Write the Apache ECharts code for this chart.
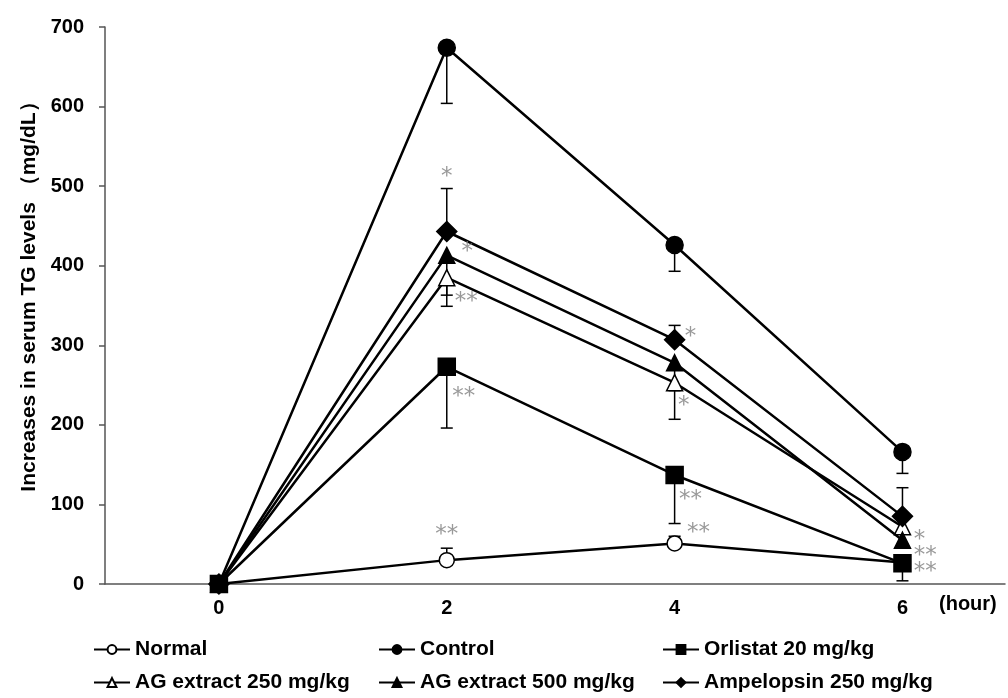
<!DOCTYPE html>
<html>
<head>
<meta charset="utf-8">
<script src="https://cdn.jsdelivr.net/npm/echarts@6/dist/echarts.min.js"></script>
<style>html,body{margin:0;padding:0;background:#fff}#c{width:1008px;height:698px}</style>
</head>
<body>
<div id="c"></div>
<script>
// ---- data ----
const hours = [0, 2, 4, 6];
const seriesNames = ['Normal', 'Control', 'Orlistat 20 mg/kg', 'AG extract 250 mg/kg', 'AG extract 500 mg/kg', 'Ampelopsin 250 mg/kg'];
const normal     = [0, 30, 51, 27];
const control    = [0, 674, 426, 166];
const orlistat   = [0, 273, 137, 26];
const ag250      = [0, 385, 253, 72];
const ag500      = [0, 413, 278, 55];
const ampelopsin = [0, 443, 307, 85];
// error bar ends [hour, mean, end]
const normalErr     = [[2, 30, 45], [4, 51, 60]];
const controlErr    = [[2, 674, 604], [4, 426, 393], [6, 166, 139]];
const orlistatErr   = [[2, 273, 196], [4, 137, 76], [6, 26, 4]];
const ag250Err      = [[2, 385, 349], [4, 253, 207]];
const ag500Err      = [[2, 413, 363], [4, 278, 243]];
const ampelopsinErr = [[2, 443, 497], [4, 307, 325], [6, 85, 121]];
// significance marks [hour, value, text]
const marks = [
  [2.0, 511, '*'], [2.18, 417, '*'], [2.17, 354, '**'], [2.15, 235, '**'], [2.0, 62, '**'],
  [4.14, 310, '*'], [4.08, 224, '*'], [4.14, 106, '**'], [4.21, 64, '**'],
  [6.15, 55, '*'], [6.2, 35, '**'], [6.2, 15, '**']
];
const yTicks = [0, 100, 200, 300, 400, 500, 600, 700];

// ---- chart ----
const font = '"Liberation Sans", Arial, sans-serif';
const chart = echarts.init(document.getElementById('c'));
const values = [normal, control, orlistat, ag250, ag500, ampelopsin];
const errs = [normalErr, controlErr, orlistatErr, ag250Err, ag500Err, ampelopsinErr];
const symbols = [
  {symbol: 'circle', size: 15, fill: '#fff'},
  {symbol: 'circle', size: 17, fill: '#000'},
  {symbol: 'rect', size: 17, fill: '#000'},
  {symbol: 'triangle', size: 16, fill: '#fff'},
  {symbol: 'triangle', size: 16, fill: '#000'},
  {symbol: 'diamond', size: 20, fill: '#000'}
];

const lineSeries = seriesNames.map((n, i) => ({
  name: n,
  type: 'line',
  data: hours.map((h, j) => [h, values[i][j]]),
  symbol: symbols[i].symbol,
  symbolSize: symbols[i].size,
  showAllSymbol: true,
  lineStyle: {color: '#000', width: 2.5},
  itemStyle: {color: symbols[i].fill, borderColor: '#000', borderWidth: 1.5},
  z: 3 + i,
  animation: false
}));

const errData = [];
errs.forEach(e => e.forEach(d => errData.push(d)));
const errSeries = {
  type: 'custom',
  data: errData,
  z: 2,
  silent: true,
  animation: false,
  renderItem: function (params, api) {
    const p0 = api.coord([api.value(0), api.value(1)]);
    const p1 = api.coord([api.value(0), api.value(2)]);
    const st = {stroke: '#000', lineWidth: 1.5};
    return {
      type: 'group',
      children: [
        {type: 'line', shape: {x1: p0[0], y1: p0[1], x2: p1[0], y2: p1[1]}, style: st},
        {type: 'line', shape: {x1: p1[0] - 6, y1: p1[1], x2: p1[0] + 6, y2: p1[1]}, style: st}
      ]
    };
  }
};

const markSeries = {
  type: 'scatter',
  data: marks.map(m => ({value: [m[0], m[1]], name: m[2]})),
  symbolSize: 0,
  silent: true,
  animation: false,
  z: 10,
  label: {
    show: true, position: 'inside', formatter: '{b}',
    color: '#7f7f7f', fontSize: 23, fontFamily: '"DejaVu Sans", sans-serif', fontWeight: 'normal'
  }
};

const legendPos = [[93, 639], [378, 639], [662, 639], [93, 672], [378, 672], [662, 672]];
const legends = seriesNames.map((n, i) => ({
  data: [n],
  left: legendPos[i][0],
  top: legendPos[i][1],
  itemWidth: 36,
  itemHeight: 11,
  itemGap: 0,
  padding: 0,
  selectedMode: false,
  textStyle: {fontFamily: font, fontWeight: 'bold', fontSize: 21, color: '#000'}
}));

chart.setOption({
  backgroundColor: '#fff',
  animation: false,
  grid: {left: 105, right: 0, top: 27, bottom: 114, containLabel: false},
  legend: legends,
  xAxis: {
    type: 'value',
    min: -1, max: 6.9,
    interval: 1,
    name: '(hour)',
    nameLocation: 'end',
    nameGap: -66,
    nameTextStyle: {fontFamily: font, fontWeight: 'bold', fontSize: 20, color: '#000', verticalAlign: 'top', align: 'left', padding: [10, 0, 0, 0]},
    axisLine: {show: true, onZero: false, lineStyle: {color: '#555', width: 1.5}},
    axisTick: {show: false},
    splitLine: {show: false},
    axisLabel: {
      fontFamily: font, fontWeight: 'bold', fontSize: 20, color: '#000', margin: 14,
      formatter: v => (hours.indexOf(v) >= 0 ? String(v) : '')
    }
  },
  yAxis: {
    type: 'value',
    min: 0, max: 700, interval: 100,
    name: 'Increases in serum TG levels （mg/dL）',
    nameLocation: 'middle',
    nameGap: 64,
    nameTextStyle: {fontFamily: font, fontWeight: 'bold', fontSize: 21, color: '#000', padding: [0, 0, 0, 28]},
    axisLine: {show: true, onZero: false, lineStyle: {color: '#555', width: 1.5}},
    axisTick: {show: true, inside: false, length: 6, lineStyle: {color: '#555', width: 1.5}},
    splitLine: {show: false},
    axisLabel: {
      fontFamily: font, fontWeight: 'bold', fontSize: 20, color: '#000', margin: 21,
      formatter: v => (yTicks.indexOf(v) >= 0 ? String(v) : '')
    }
  },
  series: [errSeries].concat(lineSeries, [markSeries])
});
</script>
</body>
</html>
